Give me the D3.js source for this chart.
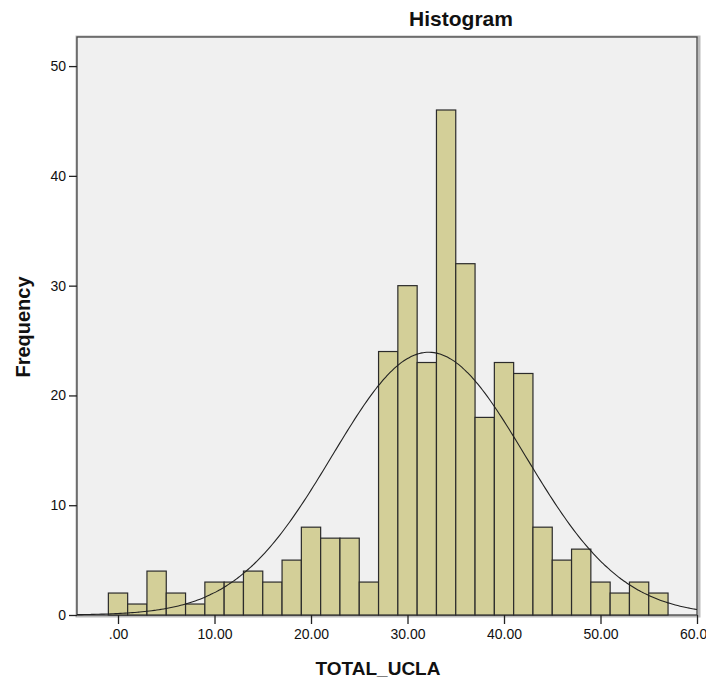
<!DOCTYPE html>
<html>
<head>
<meta charset="utf-8">
<script src="https://cdn.jsdelivr.net/npm/d3@7"></script>
<style>
  html, body { margin: 0; padding: 0; background: #fff; }
  text { font-family: "Liberation Sans", Arial, sans-serif; }
</style>
</head>
<body>
<svg id="chart" width="706" height="684"></svg>
<script>
// ---- data ----
const binCenters = [0, 2, 4, 6, 8, 10, 12, 14, 16, 18, 20, 22, 24, 26, 28, 30, 32, 34, 36, 38, 40, 42, 44, 46, 48, 50, 52, 54, 56];
const frequencies = [2, 1, 4, 2, 1, 3, 3, 4, 3, 5, 8, 7, 7, 3, 24, 30, 23, 46, 32, 18, 23, 22, 8, 5, 6, 3, 2, 3, 2];
const binWidth = 2;
const curveMean = 32.2;
const curveSD = 10.0;
const xTickValues = [0, 10, 20, 30, 40, 50, 60];
const xTickLabels = [".00", "10.00", "20.00", "30.00", "40.00", "50.00", "60.00"];
const yTickValues = [0, 10, 20, 30, 40, 50];
const chartTitle = "Histogram";
const xTitle = "TOTAL_UCLA";
const yTitle = "Frequency";

// ---- layout ----
const svg = d3.select("#chart");
const plot = { left: 77, right: 697, top: 37, bottom: 615 };

const x = d3.scaleLinear().domain([-4.25, 60]).range([plot.left, plot.right]);
const y = d3.scaleLinear().domain([0, 52.65]).range([plot.bottom, plot.top]);

// shadow + background
svg.append("rect")
  .attr("x", plot.left).attr("y", plot.top)
  .attr("width", plot.right - plot.left + 2).attr("height", plot.bottom - plot.top + 1)
  .attr("fill", "none").attr("stroke", "#bbb").attr("stroke-width", 3);
svg.append("rect")
  .attr("x", plot.left).attr("y", plot.top)
  .attr("width", plot.right - plot.left).attr("height", plot.bottom - plot.top)
  .attr("fill", "#f0f0f0").attr("stroke", "#444").attr("stroke-width", 1.3);

// bars
const N = d3.sum(frequencies);
svg.append("g").selectAll("rect")
  .data(binCenters.map((c, i) => ({ c, f: frequencies[i] })))
  .join("rect")
  .attr("x", d => x(d.c - binWidth / 2))
  .attr("y", d => y(d.f))
  .attr("width", d => x(d.c + binWidth / 2) - x(d.c - binWidth / 2))
  .attr("height", d => y(0) - y(d.f))
  .attr("fill", "#d3cf98")
  .attr("stroke", "#2b2b2b")
  .attr("stroke-width", 1.2);

// normal curve
const curvePts = d3.range(-4.25, 60.001, 0.25).map(v => {
  const z = (v - curveMean) / curveSD;
  return [v, N * binWidth * Math.exp(-0.5 * z * z) / (curveSD * Math.sqrt(2 * Math.PI))];
});
svg.append("path")
  .datum(curvePts)
  .attr("fill", "none")
  .attr("stroke", "#222")
  .attr("stroke-width", 1.1)
  .attr("d", d3.line().x(d => x(d[0])).y(d => y(d[1])).curve(d3.curveBasis));

// axes
const xAxis = d3.axisBottom(x)
  .tickValues(xTickValues)
  .tickFormat((d, i) => xTickLabels[i])
  .tickSize(9).tickPadding(5);
const gx = svg.append("g").attr("transform", `translate(0,${plot.bottom})`).call(xAxis);
gx.select(".domain").remove();
gx.selectAll("line").attr("stroke", "#222").attr("stroke-width", 1.3);
gx.selectAll("text").attr("font-size", 14).attr("fill", "#111");

const yAxis = d3.axisLeft(y).tickValues(yTickValues).tickSize(8).tickPadding(3);
const gy = svg.append("g").attr("transform", `translate(${plot.left},0)`).call(yAxis);
gy.select(".domain").remove();
gy.selectAll("line").attr("stroke", "#222").attr("stroke-width", 1.3);
gy.selectAll("text").attr("font-size", 14).attr("fill", "#111");

// titles
svg.append("text")
  .attr("x", 461).attr("y", 26)
  .attr("text-anchor", "middle")
  .attr("font-size", 21).attr("font-weight", "bold").attr("fill", "#111")
  .text(chartTitle);
svg.append("text")
  .attr("x", 378).attr("y", 675)
  .attr("text-anchor", "middle")
  .attr("font-size", 19).attr("font-weight", "bold").attr("fill", "#111")
  .text(xTitle);
svg.append("text")
  .attr("transform", "translate(30,327) rotate(-90)")
  .attr("text-anchor", "middle")
  .attr("font-size", 20).attr("font-weight", "bold").attr("fill", "#111")
  .text(yTitle);
</script>
</body>
</html>
